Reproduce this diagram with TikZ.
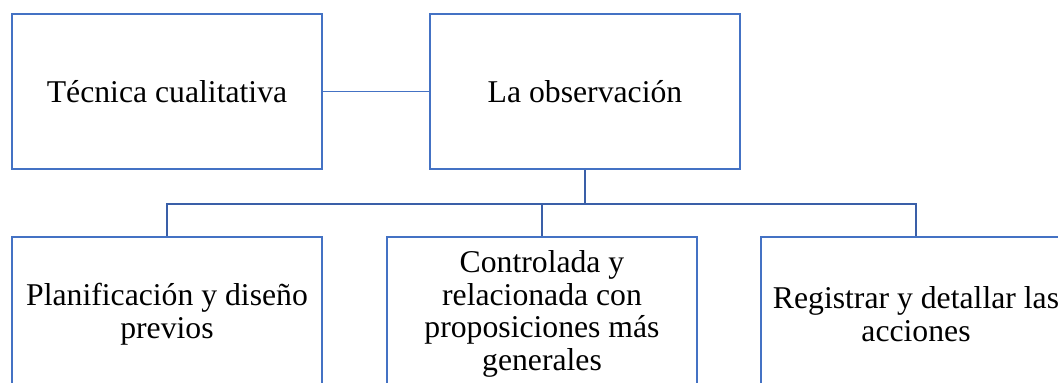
\documentclass[tikz,border=0pt]{standalone}
\usepackage{fontspec}
\setmainfont{Liberation Serif}
\definecolor{boxblue}{HTML}{4472C4}
\definecolor{treeblue}{HTML}{3A5FA8}
\begin{document}
\begin{tikzpicture}[x=1pt,y=-1pt,
  box/.style={draw=boxblue,line width=2.2pt,minimum width=310pt,inner sep=0pt,align=center,
    font=\fontsize{31.7}{32.5}\selectfont},
  tree/.style={draw=treeblue,line width=2.2pt}]
\useasboundingbox (0,0) rectangle (1058,383);
\clip (0,0) rectangle (1058,383);
\node[box,minimum height=155pt] (tec) at (167,91.5) {Técnica cualitativa};
\node[box,minimum height=155pt] (obs) at (585,91.5) {La observación};
\node[box,minimum height=154pt] (pla) at (167,314) {Planificación y diseño\\previos};
\node[box,minimum height=154pt] (con) at (542,314) {Controlada y\\relacionada con\\proposiciones más\\generales};
\node[box,minimum height=154pt] (reg) at (916,314) {Registrar y detallar las\\acciones};
\draw[boxblue,line width=1.2pt] (tec) -- (obs);
\draw[tree] (obs.south) -- ++(0,34) coordinate (j);
\draw[tree] (pla.north) |- (j) -| (reg.north);
\draw[tree] (con.north) -- (con.north |- j);
\end{tikzpicture}
\end{document}
